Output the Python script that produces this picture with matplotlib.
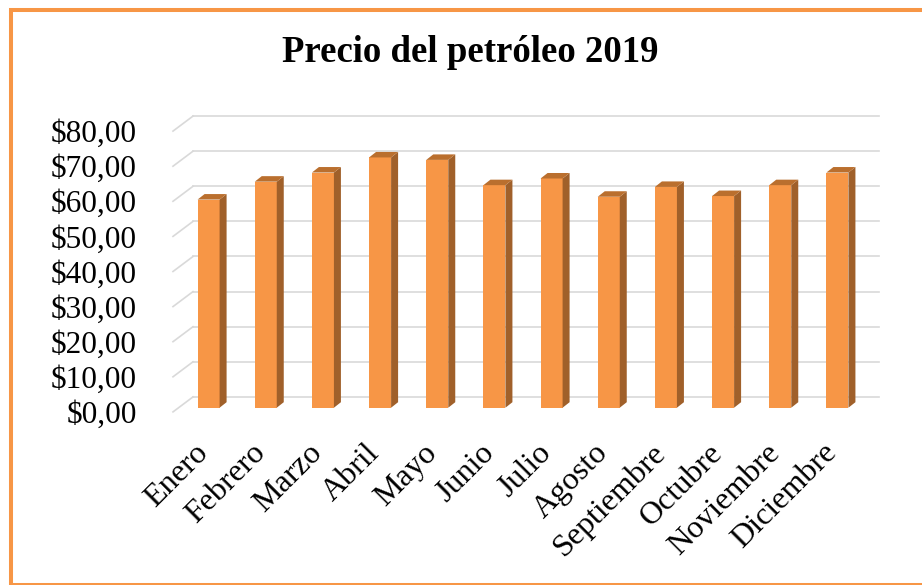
import numpy as np
import matplotlib
matplotlib.use('Agg')
import matplotlib.pyplot as plt
from matplotlib.patches import Polygon, Rectangle
from matplotlib.transforms import ScaledTranslation

# data
meses = ['Enero', 'Febrero', 'Marzo', 'Abril', 'Mayo', 'Junio', 'Julio',
         'Agosto', 'Septiembre', 'Octubre', 'Noviembre', 'Diciembre']
precios = [59.3, 64.4, 67.0, 71.3, 70.6, 63.4, 65.3, 60.1, 62.9, 60.3, 63.4, 67.0]
valores_eje = [0, 10, 20, 30, 40, 50, 60, 70, 80]
etiquetas_eje = ['$0,00', '$10,00', '$20,00', '$30,00', '$40,00',
                 '$50,00', '$60,00', '$70,00', '$80,00']

naranja = '#F79646'
lado = '#A0602A'
techo = '#BA6F2E'
gris = '#D9D9D9'

plt.rcParams['font.family'] = ['Liberation Serif', 'DejaVu Serif']

fig = plt.figure(figsize=(9.22, 5.85), dpi=100)
ax = fig.add_axes([180 / 922, 1 - 407.7 / 585, 686 / 922, (407.7 - 126.9) / 585])
ax.set_xlim(0, 12)
ax.set_ylim(0, 80)
for s in ax.spines.values():
    s.set_visible(False)

# pixel -> data conversion for the fake 3D depth
px_x = 12 / 686
px_y = 80 / (407.7 - 126.9)

# back wall and floor lines
back_dx, back_dy = 13 * px_x, 10.8 * px_y
front_dx, front_dy = -7 * px_x, -4.2 * px_y
for v in valores_eje:
    ax.plot([back_dx, 12 + back_dx], [v + back_dy, v + back_dy],
            color=gris, lw=1.2, zorder=1, clip_on=False)
    ax.plot([front_dx, back_dx], [v + front_dy, v + back_dy],
            color=gris, lw=1.2, zorder=1, clip_on=False)

# bars with side and top faces
x = np.arange(len(meses)) + 0.5
ancho = 0.385
prof_x, prof_y = 7 * px_x, 5.5 * px_y
ax.bar(x, precios, width=ancho, color=naranja, zorder=3)
for xi, p in zip(x, precios):
    r = xi + ancho / 2
    l = xi - ancho / 2
    ax.add_patch(Polygon([(r, 0), (r + prof_x, prof_y), (r + prof_x, p + prof_y), (r, p)],
                         closed=True, color=lado, zorder=3, lw=0))
    ax.add_patch(Polygon([(l, p), (r, p), (r + prof_x, p + prof_y), (l + prof_x, p + prof_y)],
                         closed=True, color=techo, zorder=3, lw=0))

ax.set_yticks(valores_eje, etiquetas_eje, fontsize=22.5)
ax.tick_params(axis='y', length=0, pad=31)
for lab in ax.get_yticklabels():
    lab.set_transform(lab.get_transform() + ScaledTranslation(0, -4.2 / 100, fig.dpi_scale_trans))

ax.set_xticks(x, meses, rotation=45, ha='right', rotation_mode='anchor', fontsize=23)
ax.tick_params(axis='x', length=0, pad=22)
for lab in ax.get_xticklabels():
    lab.set_transform(lab.get_transform() + ScaledTranslation(-15 / 100, 0, fig.dpi_scale_trans))

fig.text(470 / 922, 1 - 52 / 585, 'Precio del petróleo 2019', ha='center', va='center',
         fontsize=26.5, fontweight='bold')

# orange chart border
fig.add_artist(Rectangle((11 / 922, 0.0), 1.0, 1 - 10 / 585, transform=fig.transFigure,
                         fill=False, ec=naranja, lw=2.9, clip_on=False))

fig.savefig('out.png', dpi=100)
